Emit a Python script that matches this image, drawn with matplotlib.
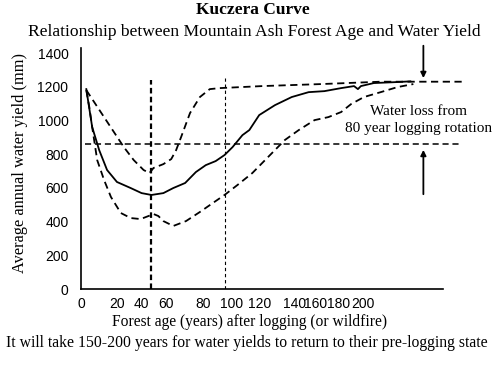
import matplotlib
matplotlib.use("Agg")
import matplotlib.pyplot as plt

# ---- data (forest age in years, water yield in mm) ----
mean_age = [0.7, 4.8, 9.7, 15.2, 22.1, 31.7, 39.3, 46.2, 54.5, 61.4, 69.7, 77.2, 84.1,
            91.0, 97.2, 102.8, 109.7, 114.5, 121.4, 132.4, 144.1, 155.9, 166.9, 178.6,
            187.6, 190.3, 192.4, 201.4, 217.9, 226.9]
mean_yield = [1186, 961, 824, 706, 635, 599, 569, 558, 569, 599, 629, 694, 735,
              759, 795, 842, 913, 943, 1032, 1091, 1139, 1168, 1174, 1192,
              1204, 1186, 1204, 1222, 1228, 1232]

upper_age = [0.7, 6.2, 13.1, 20.0, 26.9, 33.8, 40.7, 44.8, 47.6, 54.5, 60.0, 63.4, 66.9,
             73.1, 80.0, 86.9, 93.8, 123.4, 164.8, 206.2, 263.0]
upper_yield = [1180, 1109, 1020, 931, 842, 765, 706, 688, 718, 741, 771, 824, 902,
               1044, 1139, 1186, 1192, 1204, 1216, 1230, 1230]

lower_age = [0.7, 2.8, 4.8, 8.3, 13.1, 17.9, 24.8, 31.7, 38.6, 44.1, 47.6, 51.0, 54.5,
             61.4, 70.3, 80.0, 89.0, 97.2, 106.2, 116.6, 126.9, 139.3, 149.0, 160.0,
             169.7, 178.6, 185.5, 194.5, 206.2, 217.9, 229.0]
lower_yield = [1180, 1079, 961, 765, 647, 546, 451, 421, 415, 433, 445, 433, 403,
               374, 403, 457, 510, 558, 617, 688, 777, 884, 943, 1002,
               1020, 1050, 1097, 1139, 1168, 1198, 1216]

rotation_level = 860      # yield under an 80-year logging rotation
old_growth_level = 1230   # pre-logging yield
marker_ages = [46.2, 97.2]
line_end_age = 263.0
arrow_age = 236.0

xtick_pos = [-3, 22, 39, 56, 82, 102, 122, 146, 161, 177, 194]
xtick_labels = ["0", "20", "40", "60", "80", "100", "120", "140", "160", "180", "200"]
ytick_vals = [0, 200, 400, 600, 800, 1000, 1200, 1400]

serif = "Liberation Serif"
sans = "Liberation Sans"

fig = plt.figure(figsize=(5.0, 3.65), dpi=100)
ax = fig.add_axes([0.162, 0.2082, 0.724, 0.6603])

dash = (0, (4, 2.5))
ax.plot(mean_age, mean_yield, color="black", lw=1.3)
ax.plot(upper_age, upper_yield, color="black", lw=1.3, linestyle=dash, clip_on=False)
ax.plot(lower_age, lower_yield, color="black", lw=1.3, linestyle=dash)
ax.plot([0, line_end_age], [rotation_level, rotation_level], color="black", lw=1.1,
        linestyle=dash, clip_on=False)
ax.plot([marker_ages[0]] * 2, [0, 1240], color="black", lw=1.6, linestyle=(0, (2.5, 1.5)))
ax.plot([marker_ages[1]] * 2, [0, 1250], color="black", lw=0.8, linestyle=(0, (3, 2.5)))

ax.annotate("", xy=(arrow_age, old_growth_level + 5), xytext=(arrow_age, 1460),
            arrowprops=dict(arrowstyle="-|>", color="black", lw=1.3, mutation_scale=8),
            annotation_clip=False)
ax.annotate("", xy=(arrow_age, 842), xytext=(arrow_age, 546),
            arrowprops=dict(arrowstyle="-|>", color="black", lw=1.3, mutation_scale=8),
            annotation_clip=False)

ax.text(232.5, 1051, "Water loss from", family=serif, fontsize=11, ha="center", va="center")
ax.text(232.5, 950, "80 year logging rotation", family=serif, fontsize=11,
        ha="center", va="center")

ax.set_xlim(0, 249.7)
ax.set_ylim(0, 1430)
ax.set_xticks(xtick_pos)
ax.set_xticklabels(xtick_labels, family=sans, fontsize=10)
ax.set_yticks(ytick_vals)
ax.set_yticklabels([str(v) for v in ytick_vals], family=sans, fontsize=10)
ax.tick_params(length=0, pad=6)
ax.tick_params(axis="y", pad=9)
for s in ["top", "right"]:
    ax.spines[s].set_visible(False)
for s in ["left", "bottom"]:
    ax.spines[s].set_linewidth(1.2)

fig.text(0.04, 0.553, "Average annual water yield (mm)", family=serif, fontsize=11.8,
         rotation=90, ha="center", va="center")

fig.text(0.506, 0.972, "Kuczera Curve", family=serif, fontsize=12.5, weight="bold",
         ha="center", va="center")
fig.text(0.508, 0.912, "Relationship between Mountain Ash Forest Age and Water Yield",
         family=serif, fontsize=12.6, ha="center", va="center")
fig.text(0.498, 0.118, "Forest age (years) after logging (or wildfire)", family=serif,
         fontsize=11.2, ha="center", va="center")
fig.text(0.494, 0.060, "It will take 150-200 years for water yields to return to their pre-logging state",
         family=serif, fontsize=11.3, ha="center", va="center")

fig.savefig("out.png", dpi=100)
